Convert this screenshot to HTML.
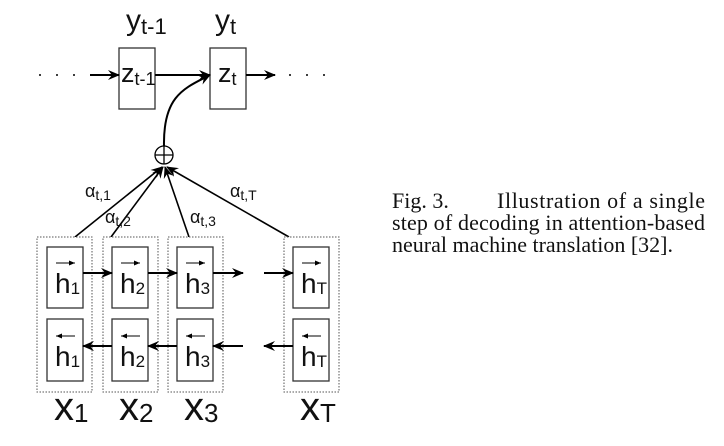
<!DOCTYPE html>
<html><head><meta charset="utf-8"><style>
body{margin:0;background:#fff;width:724px;height:446px;overflow:hidden}
svg{display:block}
</style></head><body>
<svg width="724" height="446" viewBox="0 0 724 446">
<defs>
<marker id="a" markerWidth="12" markerHeight="10" refX="11" refY="5" orient="auto" markerUnits="userSpaceOnUse">
<path d="M0,0 L12,5 L0,10 L4,5 z" fill="#000"/></marker>
</defs>
<g fill="none" stroke="#333" stroke-width="1.3">
<rect x="119" y="48" width="36" height="61" fill="#fff"/>
<rect x="210" y="48" width="36" height="61" fill="#fff"/>
</g>
<g fill="#000"><circle cx="40" cy="75" r="1"/><circle cx="57" cy="75" r="1"/><circle cx="74" cy="75" r="1"/>
<circle cx="290" cy="75" r="1"/><circle cx="307" cy="75" r="1"/><circle cx="324" cy="75" r="1"/></g>
<g stroke="#000" stroke-width="2" fill="none">
<line x1="90" y1="75" x2="119" y2="75" marker-end="url(#a)"/>
<line x1="155" y1="75" x2="210" y2="75" marker-end="url(#a)"/>
<line x1="246" y1="75" x2="275" y2="75" marker-end="url(#a)"/>
<path d="M164,146 C163,95 185,88 210,75" marker-end="url(#a)"/>
</g>
<circle cx="164" cy="155" r="9" fill="#fff" stroke="#000" stroke-width="1.3"/>
<line x1="155" y1="155" x2="173" y2="155" stroke="#000" stroke-width="1.3"/>
<line x1="164" y1="146" x2="164" y2="164" stroke="#000" stroke-width="1.3"/>
<g stroke="#000" stroke-width="1.6">
<line x1="75" y1="237" x2="162" y2="167" marker-end="url(#a)"/>
<line x1="111" y1="237" x2="163" y2="167" marker-end="url(#a)"/>
<line x1="189" y1="237" x2="165" y2="167" marker-end="url(#a)"/>
<line x1="289" y1="237" x2="167" y2="167" marker-end="url(#a)"/>
</g>
<g fill="none" stroke="#555" stroke-width="1" stroke-dasharray="1.5,1.5">
<rect x="37" y="237" width="55" height="155" fill="#fff"/>
<rect x="103" y="237" width="55" height="155" fill="#fff"/>
<rect x="168" y="237" width="55" height="155" fill="#fff"/>
<rect x="284" y="237" width="55" height="155" fill="#fff"/>
</g>
<g fill="#fff" stroke="#333" stroke-width="1.3">
<rect x="47" y="247" width="36" height="61"/><rect x="47" y="319" width="36" height="62"/>
<rect x="112" y="247" width="36" height="61"/><rect x="112" y="319" width="36" height="62"/>
<rect x="177" y="247" width="36" height="61"/><rect x="177" y="319" width="36" height="62"/>
<rect x="293" y="247" width="36" height="61"/><rect x="293" y="319" width="36" height="62"/>
</g>
<g stroke="#000" stroke-width="2">
<line x1="83" y1="273" x2="112" y2="273" marker-end="url(#a)"/>
<line x1="148" y1="273" x2="177" y2="273" marker-end="url(#a)"/>
<line x1="213" y1="273" x2="243" y2="273" marker-end="url(#a)"/>
<line x1="264" y1="273" x2="293" y2="273" marker-end="url(#a)"/>
<line x1="112" y1="346" x2="83" y2="346" marker-end="url(#a)"/>
<line x1="177" y1="346" x2="148" y2="346" marker-end="url(#a)"/>
<line x1="243" y1="346" x2="213" y2="346" marker-end="url(#a)"/>
<line x1="293" y1="346" x2="264" y2="346" marker-end="url(#a)"/>
</g>
<g stroke="#000" stroke-width="1">
<line x1="56" y1="263" x2="75" y2="263"/><line x1="121" y1="263" x2="140" y2="263"/>
<line x1="186" y1="263" x2="205" y2="263"/><line x1="302" y1="263" x2="321" y2="263"/>
<line x1="56" y1="336" x2="75" y2="336"/><line x1="121" y1="336" x2="140" y2="336"/>
<line x1="186" y1="336" x2="205" y2="336"/><line x1="302" y1="336" x2="321" y2="336"/>
</g>
<g fill="#000"><path d="M75,263 l-6,-2.5 v5z"/><path d="M140,263 l-6,-2.5 v5z"/><path d="M205,263 l-6,-2.5 v5z"/><path d="M321,263 l-6,-2.5 v5z"/>
<path d="M56,336 l6,-2.5 v5z"/><path d="M121,336 l6,-2.5 v5z"/><path d="M186,336 l6,-2.5 v5z"/><path d="M302,336 l6,-2.5 v5z"/></g>
<g font-family="Liberation Sans, sans-serif" fill="#111">
<text x="55" y="293" font-size="28">h<tspan font-size="17" dy="1">1</tspan></text>
<text x="120" y="293" font-size="28">h<tspan font-size="17" dy="1">2</tspan></text>
<text x="185" y="293" font-size="28">h<tspan font-size="17" dy="1">3</tspan></text>
<text x="301" y="293" font-size="28">h<tspan font-size="17" dy="1">T</tspan></text>
<text x="55" y="366" font-size="28">h<tspan font-size="17" dy="1">1</tspan></text>
<text x="120" y="366" font-size="28">h<tspan font-size="17" dy="1">2</tspan></text>
<text x="185" y="366" font-size="28">h<tspan font-size="17" dy="1">3</tspan></text>
<text x="301" y="366" font-size="28">h<tspan font-size="17" dy="1">T</tspan></text>
<text x="54" y="420" font-size="40">x<tspan font-size="26" dy="2">1</tspan></text>
<text x="119" y="420" font-size="40">x<tspan font-size="26" dy="2">2</tspan></text>
<text x="184" y="420" font-size="40">x<tspan font-size="26" dy="2">3</tspan></text>
<text x="300" y="420" font-size="40">x<tspan font-size="26" dy="2">T</tspan></text>
<text x="121" y="82" font-size="27">z<tspan font-size="18" dy="3">t-1</tspan></text>
<text x="218" y="82" font-size="27">z<tspan font-size="18" dy="3">t</tspan></text>
<text x="126" y="30" font-size="30">y<tspan font-size="22" dy="4">t-1</tspan></text>
<text x="215" y="30" font-size="30">y<tspan font-size="22" dy="4">t</tspan></text>
<text x="85" y="197" font-size="18">α<tspan font-size="14" dy="3">t,1</tspan></text>
<text x="105" y="223" font-size="18">α<tspan font-size="14" dy="3">t,2</tspan></text>
<text x="190" y="223" font-size="18">α<tspan font-size="14" dy="3">t,3</tspan></text>
<text x="230" y="197" font-size="18">α<tspan font-size="14" dy="3">t,T</tspan></text>
</g>
<g font-family="Liberation Serif, serif" font-size="22" fill="#111">
<text x="392" y="208">Fig. 3.</text>
<text x="497" y="208" textLength="208" lengthAdjust="spacing">Illustration of a single</text>
<text x="392" y="230" textLength="313" lengthAdjust="spacing">step of decoding in attention-based</text>
<text x="392" y="252">neural machine translation [32].</text>
</g>
</svg>
</body></html>
